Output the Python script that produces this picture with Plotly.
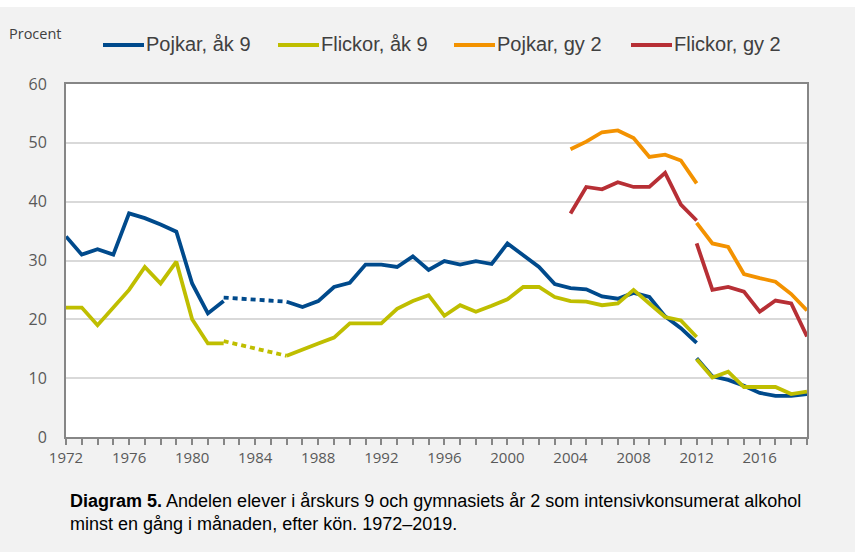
import plotly.graph_objects as go

# ---------------- data ----------------
years_early = list(range(1972, 2013))          # 1972..2012 (first method)
years_gap = [1982, 1986]                        # missing survey years bridged by dotted line
years_gy2_early = list(range(2004, 2013))       # 2004..2012
years_late = list(range(2012, 2020))            # 2012..2019 (new method)

pojkar_ak9_early = [34.1, 31.0, 31.9, 31.0, 38.0, 37.2, 36.1, 34.9, 26.1, 21.0,
                    23.1, None, None, None, 23.0, 22.1, 23.1, 25.5, 26.2, 29.3,
                    29.3, 28.9, 30.7, 28.4, 29.9, 29.3, 29.9, 29.4, 32.9, 31.0,
                    28.9, 26.0, 25.3, 25.1, 23.9, 23.5, 24.5, 23.8, 20.5, 18.5,
                    16.0]
flickor_ak9_early = [22.0, 22.0, 19.0, 22.1, 25.0, 28.9, 26.1, 29.8, 20.0, 15.9,
                     15.9, None, None, None, 13.8, 14.9, 15.9, 16.9, 19.3, 19.3,
                     19.3, 21.8, 23.1, 24.1, 20.6, 22.4, 21.3, 22.3, 23.4, 25.5,
                     25.5, 23.8, 23.1, 23.0, 22.4, 22.7, 25.0, 22.7, 20.4, 19.8,
                     17.0]
pojkar_ak9_gap = [23.7, 23.0]
flickor_ak9_gap = [16.3, 13.8]

pojkar_gy2_early = [48.9, 50.2, 51.8, 52.1, 50.8, 47.6, 48.0, 47.0, 43.1]
flickor_gy2_early = [38.0, 42.5, 42.1, 43.3, 42.5, 42.5, 44.9, 39.5, 36.8]

pojkar_ak9_late = [13.4, 10.3, 9.7, 8.7, 7.5, 7.0, 7.0, 7.3]
flickor_ak9_late = [13.2, 10.1, 11.1, 8.5, 8.5, 8.5, 7.3, 7.7]
pojkar_gy2_late = [36.4, 32.9, 32.3, 27.7, 27.0, 26.4, 24.3, 21.5]
flickor_gy2_late = [32.9, 25.0, 25.5, 24.7, 21.3, 23.2, 22.7, 17.1]

series_names = ["Pojkar, åk 9", "Flickor, åk 9", "Pojkar, gy 2", "Flickor, gy 2"]
x_tick_labels = [str(y) for y in range(1972, 2017, 4)]
y_tick_values = [0, 10, 20, 30, 40, 50, 60]

colors = ["#004a8c", "#bfbe00", "#f39200", "#b72f35"]

# ---------------- figure ----------------
FONT = "Liberation Sans, Arial, sans-serif"
TICKFONT = "Open Sans, sans-serif"
LW = 3.8

fig = go.Figure()

def add(x, y, color, dash="solid"):
    fig.add_trace(go.Scatter(x=x, y=y, mode="lines", showlegend=False,
                             line=dict(color=color, width=LW, dash=dash),
                             connectgaps=False, hoverinfo="x+y"))

# Pojkar åk 9
add(years_early, pojkar_ak9_early, colors[0])
add(years_gap, pojkar_ak9_gap, colors[0], dash="5px,4px")
add(years_late, pojkar_ak9_late, colors[0])
# Flickor åk 9
add(years_early, flickor_ak9_early, colors[1])
add(years_gap, flickor_ak9_gap, colors[1], dash="5px,4px")
add(years_late, flickor_ak9_late, colors[1])
# Pojkar gy 2
add(years_gy2_early, pojkar_gy2_early, colors[2])
add(years_late, pojkar_gy2_late, colors[2])
# Flickor gy 2
add(years_gy2_early, flickor_gy2_early, colors[3])
add(years_late, flickor_gy2_late, colors[3])

W, H = 855, 552
L, R, T, B = 66, 48, 84, 115
pw, ph = W - L - R, H - T - B

def px2x(px):
    return (px - L) / pw

def px2y(py):
    return (H - B - py) / ph

shapes = []
annotations = []

# white strip at the very top
shapes.append(dict(type="rect", xref="paper", yref="paper",
                   x0=px2x(0), x1=px2x(W), y0=px2y(7), y1=px2y(0),
                   fillcolor="white", line=dict(width=0), layer="below"))

# manual legend
legend_x = [103, 278, 454, 631]
for name, col, lx in zip(series_names, colors, legend_x):
    shapes.append(dict(type="line", xref="paper", yref="paper",
                       x0=px2x(lx), x1=px2x(lx + 41), y0=px2y(45), y1=px2y(45),
                       line=dict(color=col, width=4)))
    annotations.append(dict(text=name, xref="paper", yref="paper",
                            x=px2x(lx + 41), y=px2y(44), xanchor="left", yanchor="middle",
                            showarrow=False, font=dict(family=FONT, size=20, color="#404040")))

annotations.append(dict(text="Procent", xref="paper", yref="paper",
                        x=px2x(7), y=px2y(33), xanchor="left", yanchor="middle",
                        showarrow=False, font=dict(family=TICKFONT, size=14.5, color="#404040")))

annotations.append(dict(
    text="<b>Diagram 5.</b> Andelen elever i årskurs 9 och gymnasiets år 2 som intensivkonsumerat alkohol"
         "<br>minst en gång i månaden, efter kön. 1972–2019.",
    xref="paper", yref="paper", x=px2x(68), y=px2y(512), xanchor="left", yanchor="middle",
    align="left", showarrow=False, font=dict(family=FONT, size=18, color="#000000")))

fig.update_layout(
    width=W, height=H,
    margin=dict(l=L, r=R, t=T, b=B, pad=0),
    paper_bgcolor="#f2f2f2",
    plot_bgcolor="#ffffff",
    showlegend=False,
    shapes=shapes,
    annotations=annotations,
)

fig.update_xaxes(
    range=[1972, 2019],
    tickvals=[int(v) for v in x_tick_labels], ticktext=x_tick_labels,
    ticks="outside", ticklen=6, tickcolor="#868686", tickwidth=1.5,
    minor=dict(dtick=1, tick0=1972, ticks="outside", ticklen=6, tickcolor="#868686", tickwidth=1.5, showgrid=False),
    showgrid=False, zeroline=False,
    showline=True, linecolor="#868686", linewidth=2, mirror=True,
    tickfont=dict(family=TICKFONT, size=15, color="#595959"),
)
fig.update_yaxes(
    range=[0, 60],
    tickvals=y_tick_values,
    ticks="", ticklabelstandoff=14,
    showgrid=True, gridcolor="#d9d9d9", gridwidth=1.5,
    zeroline=False,
    showline=True, linecolor="#868686", linewidth=2, mirror=True,
    tickfont=dict(family=TICKFONT, size=16, color="#595959"),
)

fig.write_html("out.html", config={"displayModeBar": False})

# remove default browser body margin so the figure fills the window exactly
with open("out.html", "r", encoding="utf-8") as f:
    html = f.read()
html = html.replace("<body>", '<body style="margin:0;padding:0;">', 1)
html = html.replace("<head>", '<head><style>html,body{margin:0;padding:0;}</style>', 1)
with open("out.html", "w", encoding="utf-8") as f:
    f.write(html)
